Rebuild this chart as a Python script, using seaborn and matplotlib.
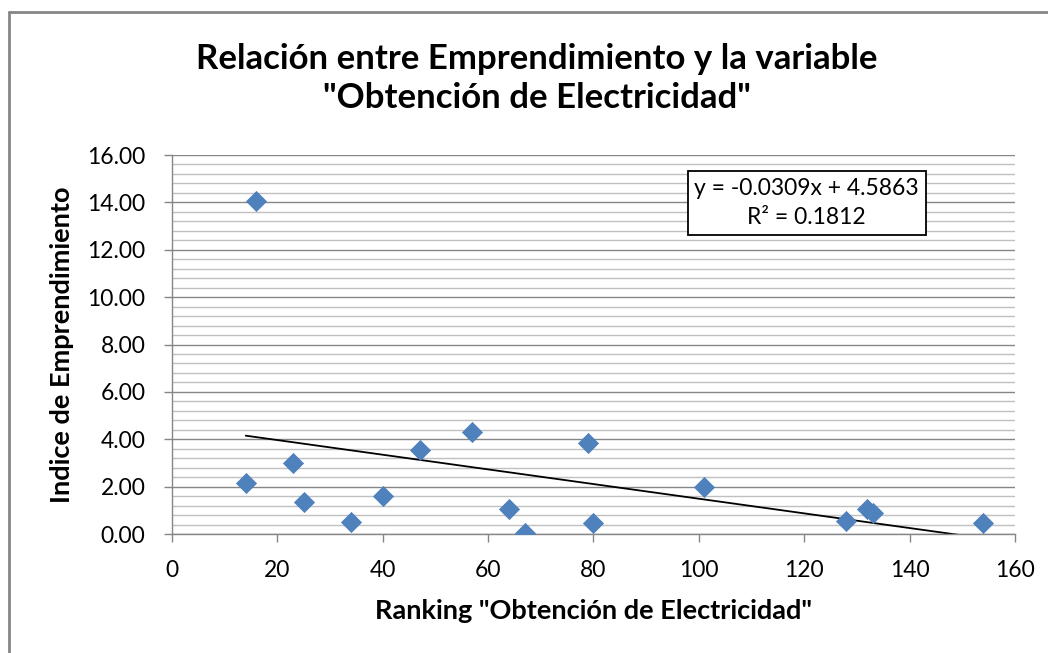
import numpy as np
import pandas as pd
import matplotlib
matplotlib.use('Agg')
import matplotlib.pyplot as plt
import seaborn as sns
from matplotlib.ticker import MultipleLocator, FormatStrFormatter
from matplotlib.lines import Line2D

# Datos
ranking = [14, 16, 23, 25, 34, 40, 47, 57, 64, 67, 79, 80, 101, 128, 132, 133, 154]
indice = [2.17, 14.08, 3.00, 1.36, 0.52, 1.62, 3.55, 4.32, 1.05, 0.03,
          3.84, 0.47, 1.99, 0.56, 1.07, 0.89, 0.48]
titulo = 'Relación entre Emprendimiento y la variable\n"Obtención de Electricidad"'
etiqueta_x = 'Ranking "Obtención de Electricidad"'
etiqueta_y = 'Indice de Emprendimiento'
ecuacion = 'y = -0.0309x + 4.5863\nR² = 0.1812'

df = pd.DataFrame({'ranking': ranking, 'indice': indice})

sns.set_style('white', {'text.color': 'black', 'axes.labelcolor': 'black',
                        'xtick.color': 'black', 'ytick.color': 'black'})
plt.rcParams['font.family'] = ['Lato', 'DejaVu Sans']

fig = plt.figure(figsize=(10.48, 6.53), dpi=100)
ax = fig.add_axes([0.1641, 0.1822, 0.8044, 0.5804])

# Rejilla
ax.yaxis.set_major_locator(MultipleLocator(2))
ax.yaxis.set_minor_locator(MultipleLocator(0.4))
ax.xaxis.set_major_locator(MultipleLocator(20))
ax.grid(which='minor', axis='y', color='#c0c0c0', lw=1.0)
ax.grid(which='major', axis='y', color='#868686', lw=1.0)
ax.grid(which='major', axis='x', visible=False)
ax.set_axisbelow(True)

sns.scatterplot(data=df, x='ranking', y='indice', marker='D', s=105,
                color='#4f81bd', edgecolor='#4a7ebb', linewidth=0.5, ax=ax, zorder=3)
sns.regplot(data=df, x='ranking', y='indice', scatter=False, ci=None,
            line_kws={'color': 'black', 'lw': 1.3}, ax=ax)

ax.set_xlim(0, 160)
ax.set_ylim(0, 16)
ax.yaxis.set_major_formatter(FormatStrFormatter('%.2f'))

for s in ['top', 'right']:
    ax.spines[s].set_visible(False)
for s in ['left', 'bottom']:
    ax.spines[s].set_color('#868686')
    ax.spines[s].set_linewidth(1.0)
ax.tick_params(axis='both', which='major', direction='out', length=6, width=1,
               color='#868686', labelsize=16.5, labelcolor='black', pad=13)
ax.tick_params(axis='y', which='minor', length=0)
ax.tick_params(left=True, bottom=True)

ax.set_xlabel(etiqueta_x, fontsize=19.5, fontweight='bold', va='center')
ax.set_ylabel(etiqueta_y, fontsize=19.5, fontweight='bold', va='center')
ax.xaxis.set_label_coords(0.5, -0.2025)
ax.yaxis.set_label_coords(-0.1305, 0.5)

fig.text(0.512, 0.8798, titulo, ha='center', va='center', fontsize=25,
         fontweight='bold', linespacing=1.28)

ax.text(0.753, 0.873, ecuacion, transform=ax.transAxes, ha='center', va='center',
        fontsize=16.5, linespacing=1.45,
        bbox=dict(boxstyle='square,pad=0.3', facecolor='white', edgecolor='black', lw=1.3))

# Borde exterior del gráfico
fig.add_artist(Line2D([0.0082, 0.0082], [0, 0.9816], color='#868686', lw=2,
                      transform=fig.transFigure))
fig.add_artist(Line2D([0.0082, 1.0], [0.9816, 0.9816], color='#868686', lw=2,
                      transform=fig.transFigure))

fig.savefig('out.png', dpi=100)
